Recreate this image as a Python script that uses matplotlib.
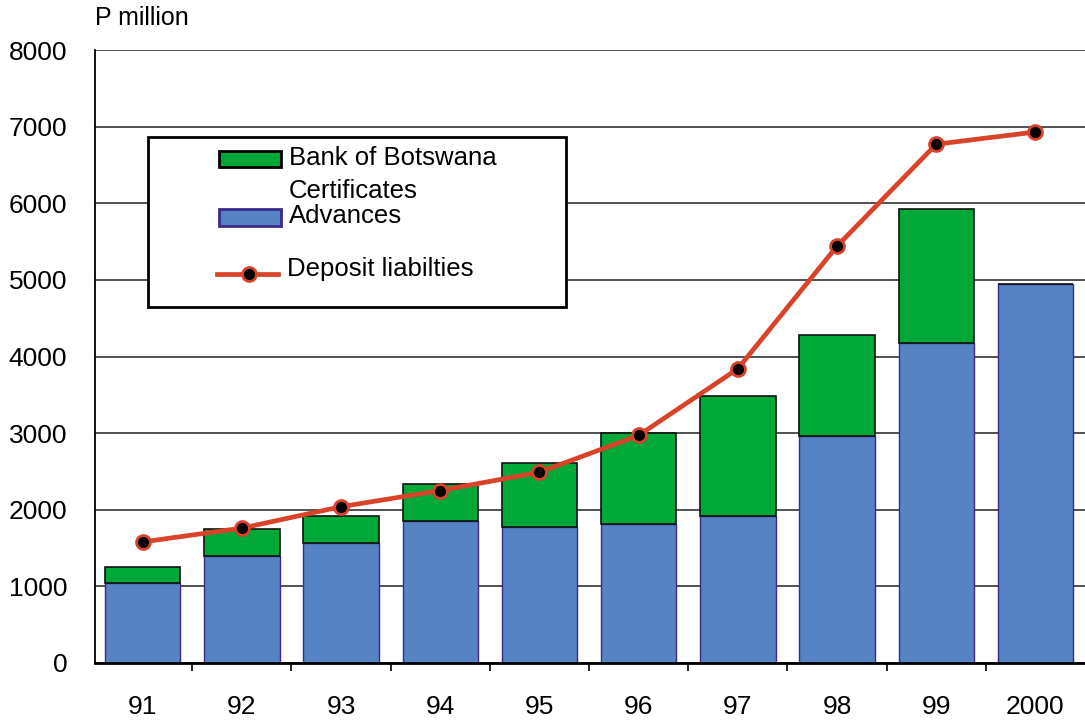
import numpy as np
import matplotlib
matplotlib.use('Agg')
import matplotlib.pyplot as plt
from matplotlib.patches import Rectangle
from matplotlib.lines import Line2D

plt.rcParams['font.family'] = ['Liberation Sans', 'DejaVu Sans']

years = ['91', '92', '93', '94', '95', '96', '97', '98', '99', '2000']
advances = [1040, 1400, 1570, 1850, 1780, 1820, 1920, 2960, 4180, 4950]
certificates = [210, 350, 350, 490, 830, 1180, 1570, 1320, 1750, 0]
deposits = [1580, 1760, 2040, 2250, 2490, 2970, 3840, 5440, 6770, 6930]

blue = '#5583C3'
green = '#00A838'
red = '#D8432A'

fig = plt.figure(figsize=(10.85, 7.2), dpi=100)
ax = fig.add_axes([95/1085, 57/720, 990/1085, 613/720])

x = np.arange(len(years))
ax.bar(x, advances, width=0.76, color=blue, edgecolor='#3B2C8C', linewidth=1, zorder=2)
ax.bar(x, certificates, width=0.76, bottom=advances, color=green,
       edgecolor='#111111', linewidth=1.2, zorder=2)
ax.plot(x, deposits, color=red, lw=3.4, marker='o', ms=10, mfc='black',
        mec=red, mew=2, zorder=3)

ax.set_ylim(0, 8000)
ax.set_xlim(-0.48, 9.5)
ax.set_yticks(range(0, 8001, 1000))
ax.yaxis.grid(True, color='#333333', lw=1.2, zorder=0)
ax.set_axisbelow(True)
ax.tick_params(axis='y', length=0, pad=20, labelsize=19)

ax.set_xticks(x[:-1] + 0.5)
ax.set_xticklabels([])
ax.set_xticks(x, minor=True)
ax.set_xticklabels(years, minor=True)
ax.tick_params(axis='x', which='major', length=6, width=1.2, direction='out')
ax.tick_params(axis='x', which='minor', length=0, pad=23, labelsize=19)

for s in ['top', 'right']:
    ax.spines[s].set_visible(False)
ax.spines['left'].set_linewidth(1.3)
ax.spines['bottom'].set_linewidth(2)

fig.text(95/1085, 1 - 18/720, 'P million', fontsize=18, va='center', ha='left')

# legend box drawn by hand in axes coordinates
def ax_pt(px, py):
    return (px - 95) / 990, (663 - py) / 613

tr = ax.transAxes
x0, y0 = ax_pt(148, 307)
x1, y1 = ax_pt(566, 137)
ax.add_patch(Rectangle((x0, y0), x1 - x0, y1 - y0, transform=tr, fc='white',
                       ec='black', lw=2, zorder=5))
gx0, gy0 = ax_pt(219, 167)
gx1, gy1 = ax_pt(281, 151)
ax.add_patch(Rectangle((gx0, gy0), gx1 - gx0, gy1 - gy0, transform=tr, fc=green,
                       ec='black', lw=2, zorder=6))
bx0, by0 = ax_pt(219, 226)
bx1, by1 = ax_pt(281, 209)
ax.add_patch(Rectangle((bx0, by0), bx1 - bx0, by1 - by0, transform=tr, fc=blue,
                       ec='#3B2C8C', lw=2, zorder=6))
lx0, ly = ax_pt(217, 274)
lx1, _ = ax_pt(278, 274)
mx, _ = ax_pt(249, 274)
ax.add_line(Line2D([lx0, lx1], [ly, ly], transform=tr, color=red, lw=3.4, zorder=6))
ax.add_line(Line2D([mx], [ly], transform=tr, marker='o', ms=10, mfc='black',
                   mec=red, mew=2, zorder=7))

for label, px, py in [('Bank of Botswana', 289, 158), ('Certificates', 289, 191),
                      ('Advances', 289, 216), ('Deposit liabilties', 287, 269)]:
    tx, ty = ax_pt(px, py)
    ax.text(tx, ty, label, transform=tr, fontsize=18.5, va='center', ha='left', zorder=7)

fig.savefig('out.png', dpi=100)
